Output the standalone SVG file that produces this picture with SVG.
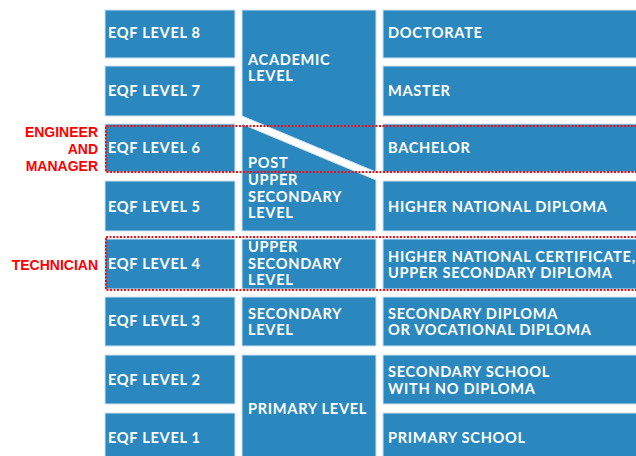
<svg xmlns="http://www.w3.org/2000/svg" width="636" height="456" viewBox="0 0 636 456">
  <style>
    .box { fill: #2a88bf; stroke: #cfe2f0; stroke-width: 1; }
    .t { fill: #ffffff; font-family: Lato, "Open Sans", "Liberation Sans", sans-serif; font-weight: 700; font-size: 14.6px; letter-spacing: 0.7px; }
    .role { fill: #ff0000; font-family: "Liberation Sans", Arial, sans-serif; font-weight: 700; font-size: 14px; text-anchor: end; }
    .frame { fill: none; stroke: #e8141a; stroke-width: 2; stroke-dasharray: 2 1.5; }
  </style>
  <rect width="636" height="456" fill="#ffffff"/>

  <!-- EQF levels column -->
  <g id="eqf8"><rect class="box" x="105" y="10" width="130" height="48"/><text class="t" x="108" y="38">EQF LEVEL 8</text></g>
  <g id="eqf7"><rect class="box" x="105" y="66" width="130" height="50"/><text class="t" x="108" y="96">EQF LEVEL 7</text></g>
  <g id="eqf6"><rect class="box" x="105" y="124" width="130" height="48"/><text class="t" x="108" y="153">EQF LEVEL 6</text></g>
  <g id="eqf5"><rect class="box" x="105" y="181" width="130" height="50"/><text class="t" x="108" y="212">EQF LEVEL 5</text></g>
  <g id="eqf4"><rect class="box" x="105" y="239" width="130" height="50"/><text class="t" x="108" y="269">EQF LEVEL 4</text></g>
  <g id="eqf3"><rect class="box" x="105" y="297" width="130" height="49"/><text class="t" x="108" y="326">EQF LEVEL 3</text></g>
  <g id="eqf2"><rect class="box" x="105" y="355" width="130" height="49"/><text class="t" x="108" y="385">EQF LEVEL 2</text></g>
  <g id="eqf1"><rect class="box" x="105" y="413" width="130" height="50"/><text class="t" x="108" y="443">EQF LEVEL 1</text></g>

  <!-- education level column -->
  <g id="academic">
    <polygon class="box" points="242,10 376,10 376,172 242,116"/>
    <text class="t" x="248" y="65">ACADEMIC</text>
    <text class="t" x="248" y="81">LEVEL</text>
  </g>
  <g id="post-upper-secondary">
    <polygon class="box" points="242,124 376,180 376,231 242,231"/>
    <text class="t" x="248" y="168">POST</text>
    <text class="t" x="248" y="185">UPPER</text>
    <text class="t" x="248" y="202">SECONDARY</text>
    <text class="t" x="248" y="218">LEVEL</text>
  </g>
  <g id="upper-secondary">
    <rect class="box" x="242" y="239" width="134" height="50"/>
    <text class="t" x="248" y="252">UPPER</text>
    <text class="t" x="248" y="269">SECONDARY</text>
    <text class="t" x="248" y="285">LEVEL</text>
  </g>
  <g id="secondary">
    <rect class="box" x="242" y="297" width="134" height="49"/>
    <text class="t" x="248" y="319">SECONDARY</text>
    <text class="t" x="248" y="335">LEVEL</text>
  </g>
  <g id="primary">
    <rect class="box" x="242" y="355" width="134" height="108"/>
    <text class="t" x="248" y="414">PRIMARY LEVEL</text>
  </g>

  <!-- qualification column -->
  <g id="doctorate"><rect class="box" x="383" y="10" width="260" height="48"/><text class="t" x="388" y="38">DOCTORATE</text></g>
  <g id="master"><rect class="box" x="383" y="66" width="260" height="50"/><text class="t" x="388" y="96">MASTER</text></g>
  <g id="bachelor"><rect class="box" x="383" y="124" width="260" height="48"/><text class="t" x="388" y="153">BACHELOR</text></g>
  <g id="hnd"><rect class="box" x="383" y="181" width="260" height="50"/><text class="t" x="388" y="212">HIGHER NATIONAL DIPLOMA</text></g>
  <g id="hnc"><rect class="box" x="383" y="239" width="260" height="50"/>
    <text class="t" x="388" y="262">HIGHER NATIONAL CERTIFICATE,</text>
    <text class="t" x="388" y="278">UPPER SECONDARY DIPLOMA</text></g>
  <g id="secondary-diploma"><rect class="box" x="383" y="297" width="260" height="49"/>
    <text class="t" x="388" y="319">SECONDARY DIPLOMA</text>
    <text class="t" x="388" y="335">OR VOCATIONAL DIPLOMA</text></g>
  <g id="secondary-school"><rect class="box" x="383" y="355" width="260" height="49"/>
    <text class="t" x="388" y="377">SECONDARY SCHOOL</text>
    <text class="t" x="388" y="394">WITH NO DIPLOMA</text></g>
  <g id="primary-school"><rect class="box" x="383" y="413" width="260" height="50"/><text class="t" x="388" y="443">PRIMARY SCHOOL</text></g>

  <!-- highlighted profiles -->
  <g id="engineer-manager">
    <rect class="frame" x="106" y="126" width="540" height="46"/>
    <text class="role" x="98" y="137">ENGINEER</text>
    <text class="role" x="98" y="154">AND</text>
    <text class="role" x="98" y="171">MANAGER</text>
  </g>
  <g id="technician">
    <rect class="frame" x="106" y="237" width="540" height="53"/>
    <text class="role" x="98" y="270">TECHNICIAN</text>
  </g>
</svg>
